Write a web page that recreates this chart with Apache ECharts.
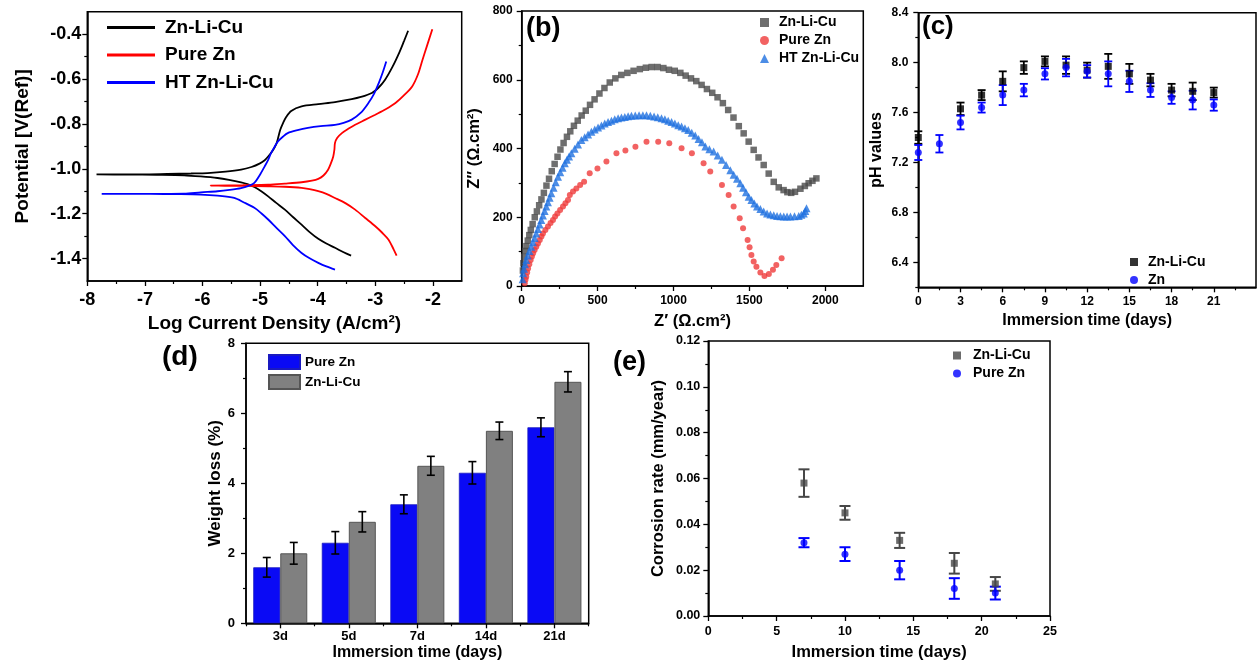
<!DOCTYPE html>
<html>
<head>
<meta charset="utf-8">
<script src="https://cdn.jsdelivr.net/npm/echarts/dist/echarts.min.js"></script>
<style>
  html, body { margin: 0; padding: 0; background: #fff; }
  #wrap { position: relative; width: 1257px; height: 664px; overflow: hidden; background: #fff; }
  .panel { position: absolute; left: 0; top: 0; width: 1257px; height: 664px; }
</style>
</head>
<body>
<div id="wrap">
  <div class="panel" id="pa"></div>
  <div class="panel" id="pb"></div>
  <div class="panel" id="pc"></div>
  <div class="panel" id="pd"></div>
  <div class="panel" id="pe"></div>
</div>
<script>
// ---------- (a) potentiodynamic polarization: [log i (A/cm2), E (V)] along each scan ----------
const tafelZnLiCu = [
  [-3.42,-1.387],[-3.55,-1.372],[-3.70,-1.352],[-3.85,-1.333],[-3.99,-1.312],[-4.14,-1.282],[-4.28,-1.249],
  [-4.43,-1.215],[-4.57,-1.182],[-4.72,-1.152],[-4.86,-1.123],[-4.98,-1.100],[-5.10,-1.081],[-5.22,-1.068],
  [-5.33,-1.060],[-5.54,-1.049],[-5.74,-1.041],[-6.03,-1.034],[-6.32,-1.029],[-6.80,-1.027],[-7.30,-1.026],
  [-7.84,-1.025],[-7.30,-1.025],[-6.61,-1.023],[-6.20,-1.021],[-5.91,-1.019],[-5.60,-1.013],[-5.33,-1.004],
  [-5.15,-0.992],[-5.01,-0.977],[-4.92,-0.962],[-4.86,-0.945],[-4.78,-0.918],[-4.72,-0.890],[-4.69,-0.865],
  [-4.65,-0.826],[-4.60,-0.795],[-4.55,-0.770],[-4.46,-0.742],[-4.28,-0.722],[-3.99,-0.712],[-3.70,-0.703],
  [-3.41,-0.690],[-3.25,-0.680],[-3.06,-0.662],[-2.95,-0.640],[-2.83,-0.603],[-2.70,-0.545],[-2.58,-0.480],
  [-2.50,-0.430],[-2.43,-0.385]
];
const tafelPureZn = [
  [-2.63,-1.387],[-2.68,-1.360],[-2.77,-1.316],[-2.88,-1.285],[-3.00,-1.256],[-3.18,-1.218],[-3.35,-1.182],
  [-3.52,-1.153],[-3.70,-1.130],[-3.85,-1.112],[-3.99,-1.100],[-4.14,-1.091],[-4.28,-1.085],[-4.57,-1.080],
  [-4.86,-1.078],[-5.30,-1.076],[-5.86,-1.075],[-5.30,-1.073],[-4.86,-1.071],[-4.57,-1.066],[-4.28,-1.060],
  [-4.10,-1.053],[-3.99,-1.045],[-3.90,-1.030],[-3.82,-1.004],[-3.77,-0.975],[-3.73,-0.945],[-3.71,-0.915],
  [-3.70,-0.885],[-3.66,-0.862],[-3.58,-0.841],[-3.47,-0.822],[-3.35,-0.804],[-3.18,-0.782],[-3.00,-0.759],
  [-2.82,-0.735],[-2.65,-0.707],[-2.50,-0.672],[-2.36,-0.633],[-2.26,-0.580],[-2.18,-0.514],[-2.10,-0.450],
  [-2.01,-0.378]
];
const tafelHtZnLiCu = [
  [-3.70,-1.449],[-3.85,-1.435],[-3.99,-1.419],[-4.14,-1.399],[-4.28,-1.375],[-4.43,-1.340],[-4.57,-1.300],
  [-4.72,-1.262],[-4.86,-1.226],[-4.98,-1.198],[-5.10,-1.174],[-5.28,-1.150],[-5.45,-1.130],[-5.74,-1.120],
  [-6.03,-1.115],[-6.45,-1.113],[-6.90,-1.112],[-7.30,-1.112],[-7.75,-1.112],[-7.30,-1.112],[-6.90,-1.112],
  [-6.32,-1.111],[-6.03,-1.105],[-5.74,-1.100],[-5.53,-1.094],[-5.33,-1.086],[-5.20,-1.076],[-5.10,-1.063],
  [-5.01,-1.030],[-4.92,-0.989],[-4.86,-0.960],[-4.81,-0.930],[-4.75,-0.903],[-4.69,-0.878],[-4.60,-0.856],
  [-4.52,-0.841],[-4.35,-0.828],[-4.17,-0.818],[-3.95,-0.810],[-3.70,-0.804],[-3.55,-0.795],[-3.41,-0.781],
  [-3.25,-0.750],[-3.12,-0.707],[-3.02,-0.665],[-2.94,-0.618],[-2.87,-0.570],[-2.81,-0.522]
];
const aXTicks = [-8, -7, -6, -5, -4, -3, -2];
const aXMinor = [-7.5, -6.5, -5.5, -4.5, -3.5, -2.5];
const aYTicks = [-1.4, -1.2, -1.0, -0.8, -0.6, -0.4];
const aYMinor = [-1.3, -1.1, -0.9, -0.7, -0.5];

// ---------- (b) Nyquist plots: [Z' , Z''] in ohm.cm2 ----------
const nyqZnLiCu = [
  [8,45],[11,66],[17,85],[24,102],[31,116],[40,132],[50,148],[60,163],[72,180],[86,200],[100,217],[115,235],
  [130,252],[146,271],[163,292],[180,312],[198,334],[217,355],[236,376],[255,397],[276,416],[298,434],[320,450],
  [344,466],[369,481],[395,496],[422,510],[450,527],[480,543],[512,560],[545,576],[580,592],[617,604],[656,614],
  [696,620],[737,626],[778,631],[818,635],[856,637],[895,637],[933,634],[970,629],[1008,626],[1045,620],[1080,612],
  [1115,604],[1150,596],[1185,585],[1220,573],[1255,562],[1290,549],[1325,532],[1360,512],[1395,490],[1430,465],
  [1462,444],[1495,420],[1528,396],[1560,374],[1594,352],[1627,327],[1660,303],[1693,287],[1725,279],[1750,273],
  [1775,271],[1800,274],[1836,283],[1865,291],[1890,299],[1915,306],[1941,313]
];
const nyqPureZn = [
  [20,8],[25,18],[30,27],[36,39],[42,51],[50,63],[59,76],[67,86],[75,95],[85,105],[96,114],[107,124],[119,134],
  [130,144],[140,153],[156,163],[173,173],[190,183],[206,192],[220,202],[235,211],[253,221],[272,231],[288,241],
  [305,250],[317,265],[338,275],[360,284],[385,294],[411,303],[448,328],[499,342],[558,362],[624,386],[683,394],
  [749,405],[822,420],[899,420],[972,415],[1053,401],[1121,386],[1198,357],[1242,333],[1319,294],[1363,265],
  [1396,231],[1436,197],[1458,168],[1488,134],[1501,113],[1513,90],[1528,71],[1546,56],[1572,39],[1599,29],
  [1628,35],[1655,47],[1677,61],[1712,81]
];
const nyqHtZnLiCu = [
  [6,20],[9,37],[15,50],[22,63],[30,76],[40,89],[51,102],[63,114],[74,127],[85,140],[96,153],[107,166],[118,179],
  [129,192],[140,205],[151,218],[162,231],[173,244],[184,257],[195,270],[210,286],[224,302],[239,318],[254,331],
  [269,344],[284,357],[298,367],[312,377],[327,386],[349,399],[371,412],[393,425],[415,433],[437,441],[459,449],
  [481,455],[503,461],[525,467],[547,473],[569,477],[591,481],[613,485],[635,488],[657,490],[679,492],[701,494],
  [723,495],[748,496],[773,497],[798,497],[822,497],[847,495],[872,493],[896,491],[921,488],[943,485],[965,481],
  [987,477],[1009,473],[1031,468],[1053,464],[1075,459],[1097,454],[1120,446],[1143,438],[1165,428],[1187,418],
  [1210,406],[1236,398],[1264,391],[1291,380],[1319,367],[1346,352],[1374,337],[1396,324],[1418,312],[1440,299],
  [1458,286],[1477,273],[1495,260],[1513,250],[1532,240],[1550,231],[1572,224],[1594,217],[1616,211],[1638,208],
  [1660,206],[1682,204],[1704,203],[1726,202],[1748,202],[1770,202],[1797,203],[1825,204],[1842,207],[1858,211],
  [1868,218],[1876,226]
];
const bXTicks = [0, 500, 1000, 1500, 2000];
const bXMinor = [250, 750, 1250, 1750];
const bYTicks = [0, 200, 400, 600, 800];
const bYMinor = [100, 300, 500, 700];

// ---------- (c) pH of the immersion medium ----------
const phDays = [0, 1.5, 3, 4.5, 6, 7.5, 9, 10.5, 12, 13.5, 15, 16.5, 18, 19.5, 21];
const phZnLiCu    = [7.40, null, 7.63, 7.74, 7.85, 7.96, 8.01, 7.98, 7.94, 7.97, 7.91, 7.86, 7.78, 7.77, 7.76];
const phZnLiCuErr = [0.05, null, 0.05, 0.04, 0.08, 0.05, 0.04, 0.07, 0.06, 0.10, 0.08, 0.05, 0.05, 0.07, 0.04];
const phZn        = [7.28, 7.35, 7.52, 7.64, 7.74, 7.78, 7.91, 7.96, 7.93, 7.91, 7.85, 7.78, 7.72, 7.70, 7.66];
const phZnErr     = [0.06, 0.07, 0.055, 0.04, 0.08, 0.05, 0.045, 0.07, 0.05, 0.10, 0.085, 0.055, 0.05, 0.075, 0.045];
const cXTicks = [0, 3, 6, 9, 12, 15, 18, 21];
const cXMinor = [1.5, 4.5, 7.5, 10.5, 13.5, 16.5, 19.5, 22.5];
const cYTicks = [6.4, 6.8, 7.2, 7.6, 8.0, 8.4];
const cYMinor = [6.2, 6.6, 7.0, 7.4, 7.8, 8.2];

// ---------- (d) weight loss ----------
const wlCategories = ['3d', '5d', '7d', '14d', '21d'];
const wlPureZn     = [1.6, 2.3, 3.4, 4.3, 5.6];
const wlPureZnErr  = [0.28, 0.32, 0.27, 0.32, 0.27];
const wlZnLiCu     = [2.0, 2.9, 4.5, 5.5, 6.9];
const wlZnLiCuErr  = [0.31, 0.29, 0.27, 0.25, 0.29];
const dYTicks = [0, 2, 4, 6, 8];
const dYMinor = [1, 3, 5, 7];

// ---------- (e) corrosion rate ----------
const crDays      = [7, 10, 14, 18, 21];
const crZnLiCu    = [0.058, 0.045, 0.033, 0.023, 0.014];
const crZnLiCuErr = [0.006, 0.003, 0.0033, 0.0045, 0.003];
const crPureZn    = [0.032, 0.027, 0.020, 0.012, 0.010];
const crPureZnErr = [0.002, 0.003, 0.004, 0.0045, 0.0028];
const eXTicks = [0, 5, 10, 15, 20, 25];
const eXMinor = [2.5, 7.5, 12.5, 17.5, 22.5];
const eYTicks = [0, 0.02, 0.04, 0.06, 0.08, 0.10, 0.12];
const eYMinor = [0.01, 0.03, 0.05, 0.07, 0.09, 0.11];

// ---------- shared helpers ----------
const FONT = "'Liberation Sans', Arial, Helvetica, sans-serif";

function txt(size) {
  return { color: '#000', fontFamily: FONT, fontWeight: 'bold', fontSize: size };
}

// Main axis (labels + long ticks) and a twin carrying only the short minor ticks
function valueAxisPair(o) {
  const common = { type: 'value', position: o.pos, offset: 0, min: o.min, max: o.max, splitLine: { show: false } };
  const main = Object.assign({}, common, {
    axisLine: { show: true, onZero: false, lineStyle: { color: '#000', width: 1.5 } },
    axisTick: { show: true, customValues: o.ticks, length: 5, lineStyle: { color: '#000', width: 1.3 } },
    axisLabel: Object.assign({ show: true, customValues: o.ticks, formatter: o.fmt, margin: o.margin }, txt(o.labelSize)),
    name: o.name,
    nameLocation: 'middle',
    nameGap: o.nameGap,
    nameTextStyle: txt(o.nameSize)
  });
  const minor = Object.assign({}, common, {
    axisLine: { show: false, onZero: false },
    axisTick: { show: true, customValues: o.minor, length: 3, lineStyle: { color: '#000', width: 1.2 } },
    axisLabel: { show: false }
  });
  return [main, minor];
}

function frame(box) {
  return Object.assign({ show: true, borderColor: '#000', borderWidth: 1.5, backgroundColor: 'transparent' }, box);
}

// Vertical error bars with caps; each datum is [x, y, halfRange]
function errorBars(points, color, capHalf, width, dx) {
  return {
    type: 'custom',
    silent: true,
    z: 2,
    data: points,
    encode: { x: 0, y: 1 },
    renderItem: function (params, api) {
      const x = api.value(0), y = api.value(1), e = api.value(2);
      const hi = api.coord([x, y + e]);
      const lo = api.coord([x, y - e]);
      const px = hi[0] + (dx || 0);
      const st = { stroke: color, lineWidth: width };
      return {
        type: 'group',
        children: [
          { type: 'line', shape: { x1: px, y1: hi[1], x2: px, y2: lo[1] }, style: st },
          { type: 'line', shape: { x1: px - capHalf, y1: hi[1], x2: px + capHalf, y2: hi[1] }, style: st },
          { type: 'line', shape: { x1: px - capHalf, y1: lo[1], x2: px + capHalf, y2: lo[1] }, style: st }
        ]
      };
    }
  };
}

function pairs(xs, ys) {
  return xs.map((x, i) => [x, ys[i]]).filter(p => p[1] !== null);
}
function triples(xs, ys, es) {
  return xs.map((x, i) => [x, ys[i], es[i]]).filter(p => p[1] !== null);
}

function panelLabel(text, left, top, size) {
  return { type: 'text', left: left, top: top, style: { text: text, fill: '#000', font: 'bold ' + size + 'px ' + FONT } };
}

function make(id, option) {
  const chart = echarts.init(document.getElementById(id), null, { renderer: 'canvas' });
  option.backgroundColor = 'transparent';
  option.animation = false;
  chart.setOption(option);
  return chart;
}

// ---------- (a) ----------
make('pa', {
  grid: frame({ left: 87.3, top: 11.7, width: 374.4, height: 269.3 }),
  xAxis: valueAxisPair({ pos: 'bottom', min: -8, max: -1.5, ticks: aXTicks, minor: aXMinor,
    fmt: v => String(v), margin: 10, labelSize: 18,
    name: 'Log Current Density (A/cm²)', nameGap: 33, nameSize: 19 }),
  yAxis: valueAxisPair({ pos: 'left', min: -1.5, max: -0.3, ticks: aYTicks, minor: aYMinor,
    fmt: v => v.toFixed(1), margin: 6, labelSize: 18,
    name: 'Potential [V(Ref)]', nameGap: 55, nameSize: 19 }),
  legend: {
    orient: 'vertical', left: 107, top: 18, padding: 0, icon: 'rect', itemWidth: 48, itemHeight: 3, itemGap: 8.5,
    textStyle: Object.assign({ lineHeight: 19, padding: [0, 0, 0, 5] }, txt(19)),
    data: ['Zn-Li-Cu', 'Pure Zn', 'HT Zn-Li-Cu']
  },
  series: [
    { type: 'line', name: 'Zn-Li-Cu', data: tafelZnLiCu, smooth: 0.3, symbol: 'none', color: '#000000', lineStyle: { width: 1.8 } },
    { type: 'line', name: 'Pure Zn', data: tafelPureZn, smooth: 0.3, symbol: 'none', color: '#ff0000', lineStyle: { width: 1.8 } },
    { type: 'line', name: 'HT Zn-Li-Cu', data: tafelHtZnLiCu, smooth: 0.3, symbol: 'none', color: '#0000ff', lineStyle: { width: 1.8 } }
  ]
});

// ---------- (b) ----------
make('pb', {
  grid: frame({ left: 521.7, top: 11, width: 341.6, height: 275 }),
  xAxis: valueAxisPair({ pos: 'bottom', min: 0, max: 2250, ticks: bXTicks, minor: bXMinor,
    fmt: v => String(v), margin: 9, labelSize: 12,
    name: 'Z′ (Ω.cm²)', nameGap: 27, nameSize: 16.5 }),
  yAxis: valueAxisPair({ pos: 'left', min: 0, max: 800, ticks: bYTicks, minor: bYMinor,
    fmt: v => String(v), margin: 9, labelSize: 12,
    name: 'Z″ (Ω.cm²)', nameGap: 39, nameSize: 16.5 }),
  legend: {
    orient: 'vertical', left: 760, top: 15.5, padding: 0, itemWidth: 9, itemHeight: 9, itemGap: 4,
    textStyle: Object.assign({ lineHeight: 14, padding: [0, 0, 0, 5] }, txt(14)),
    data: ['Zn-Li-Cu', 'Pure Zn', 'HT Zn-Li-Cu']
  },
  graphic: [panelLabel('(b)', 526, 15, 27)],
  series: [
    { type: 'scatter', name: 'Zn-Li-Cu', data: nyqZnLiCu, symbol: 'rect', symbolSize: 6.5, color: '#4a4a4a', z: 3 },
    { type: 'scatter', name: 'Pure Zn', data: nyqPureZn, symbol: 'circle', symbolSize: 6, color: '#ef3b3b', z: 3 },
    { type: 'scatter', name: 'HT Zn-Li-Cu', data: nyqHtZnLiCu, symbol: 'triangle', symbolSize: 8, color: '#1f70e0', z: 3 }
  ]
});

// ---------- (c) ----------
make('pc', {
  grid: frame({ left: 918.3, top: 12.7, width: 337.7, height: 274.6 }),
  xAxis: valueAxisPair({ pos: 'bottom', min: 0, max: 24, ticks: cXTicks, minor: cXMinor,
    fmt: v => String(v), margin: 8, labelSize: 12,
    name: 'Immersion time (days)', nameGap: 25, nameSize: 16 }),
  yAxis: valueAxisPair({ pos: 'left', min: 6.2, max: 8.4, ticks: cYTicks, minor: cYMinor,
    fmt: v => v.toFixed(1), margin: 10, labelSize: 12,
    name: 'pH values', nameGap: 33.5, nameSize: 16 }),
  legend: {
    orient: 'vertical', left: 1130, top: 255, padding: 0, itemWidth: 8, itemHeight: 8, itemGap: 4,
    textStyle: Object.assign({ lineHeight: 14, padding: [0, 0, 0, 5] }, txt(14)),
    data: ['Zn-Li-Cu', 'Zn']
  },
  graphic: [panelLabel('(c)', 922, 13.5, 26)],
  series: [
    errorBars(triples(phDays, phZnLiCu, phZnLiCuErr), '#000000', 4, 1.8, 0),
    { type: 'scatter', name: 'Zn-Li-Cu', data: pairs(phDays, phZnLiCu), symbol: 'rect', symbolSize: 7, color: '#000000', z: 3 },
    errorBars(triples(phDays, phZn, phZnErr), '#0000ff', 4, 1.8, 0),
    { type: 'scatter', name: 'Zn', data: pairs(phDays, phZn), symbol: 'circle', symbolSize: 7, color: '#0000ff', z: 3 }
  ]
});

// ---------- (d) ----------
const BAR_W = 27;
const dY = valueAxisPair({ pos: 'left', min: 0, max: 8, ticks: dYTicks, minor: dYMinor,
  fmt: v => String(v), margin: 11, labelSize: 13,
  name: 'Weight loss (%)', nameGap: 21, nameSize: 17 });
make('pd', {
  grid: frame({ left: 246, top: 343.3, width: 342.7, height: 280 }),
  xAxis: [
    {
      type: 'category', data: wlCategories, position: 'bottom',
      axisLine: { show: true, onZero: false, lineStyle: { color: '#000', width: 1.5 } },
      axisTick: { show: true, alignWithLabel: true, length: 5, lineStyle: { color: '#000', width: 1.3 } },
      axisLabel: Object.assign({ margin: 7 }, txt(13)),
      name: 'Immersion time (days)', nameLocation: 'middle', nameGap: 21, nameTextStyle: txt(16)
    },
    {
      // short ticks on the category boundaries
      type: 'category', data: wlCategories, position: 'bottom', offset: 0,
      axisLine: { show: false, onZero: false },
      axisTick: { show: true, length: 3, lineStyle: { color: '#000', width: 1.2 } },
      axisLabel: { show: false }
    }
  ],
  yAxis: dY,
  legend: {
    orient: 'vertical', left: 268, top: 354, padding: 0, icon: 'rect', itemWidth: 31, itemHeight: 14, itemGap: 4,
    textStyle: Object.assign({ lineHeight: 14, padding: [0, 0, 0, 0] }, txt(13.5)),
    data: ['Pure Zn', 'Zn-Li-Cu']
  },
  graphic: [panelLabel('(d)', 162, 343, 28)],
  series: [
    { type: 'bar', name: 'Pure Zn', data: wlPureZn, barWidth: BAR_W, barGap: '0%', z: 1,
      itemStyle: { color: '#0a0af5', borderColor: '#1a1ac0', borderWidth: 0.8 } },
    { type: 'bar', name: 'Zn-Li-Cu', data: wlZnLiCu, barWidth: BAR_W, barGap: '0%', z: 1,
      itemStyle: { color: '#808080', borderColor: '#555555', borderWidth: 1 } },
    Object.assign(errorBars(triples(wlCategories.map((c, i) => i), wlPureZn, wlPureZnErr), '#000', 4, 1.6, -BAR_W / 2), { z: 4 }),
    Object.assign(errorBars(triples(wlCategories.map((c, i) => i), wlZnLiCu, wlZnLiCuErr), '#000', 4, 1.6, BAR_W / 2), { z: 4 })
  ]
});

// ---------- (e) ----------
make('pe', {
  grid: frame({ left: 708.3, top: 341, width: 341.7, height: 275 }),
  xAxis: valueAxisPair({ pos: 'bottom', min: 0, max: 25, ticks: eXTicks, minor: eXMinor,
    fmt: v => String(v), margin: 9, labelSize: 12.5,
    name: 'Immersion time (days)', nameGap: 27.5, nameSize: 16.5 }),
  yAxis: valueAxisPair({ pos: 'left', min: 0, max: 0.12, ticks: eYTicks, minor: eYMinor,
    fmt: v => v.toFixed(2), margin: 8, labelSize: 12.5,
    name: 'Corrosion rate (mm/year)', nameGap: 41.5, nameSize: 16.5 }),
  legend: {
    orient: 'vertical', left: 953, top: 348.5, padding: 0, itemWidth: 8, itemHeight: 8, itemGap: 4,
    textStyle: Object.assign({ lineHeight: 14, padding: [0, 0, 0, 7] }, txt(14)),
    data: ['Zn-Li-Cu', 'Pure Zn']
  },
  graphic: [panelLabel('(e)', 613, 349, 27)],
  series: [
    errorBars(triples(crDays, crZnLiCu, crZnLiCuErr), '#474747', 5.5, 2, 0),
    { type: 'scatter', name: 'Zn-Li-Cu', data: pairs(crDays, crZnLiCu), symbol: 'rect', symbolSize: 7, color: '#474747', z: 3 },
    errorBars(triples(crDays, crPureZn, crPureZnErr), '#0000ff', 5.5, 2, 0),
    { type: 'scatter', name: 'Pure Zn', data: pairs(crDays, crPureZn), symbol: 'circle', symbolSize: 7, color: '#0000ff', z: 3 }
  ]
});
</script>
</body>
</html>
